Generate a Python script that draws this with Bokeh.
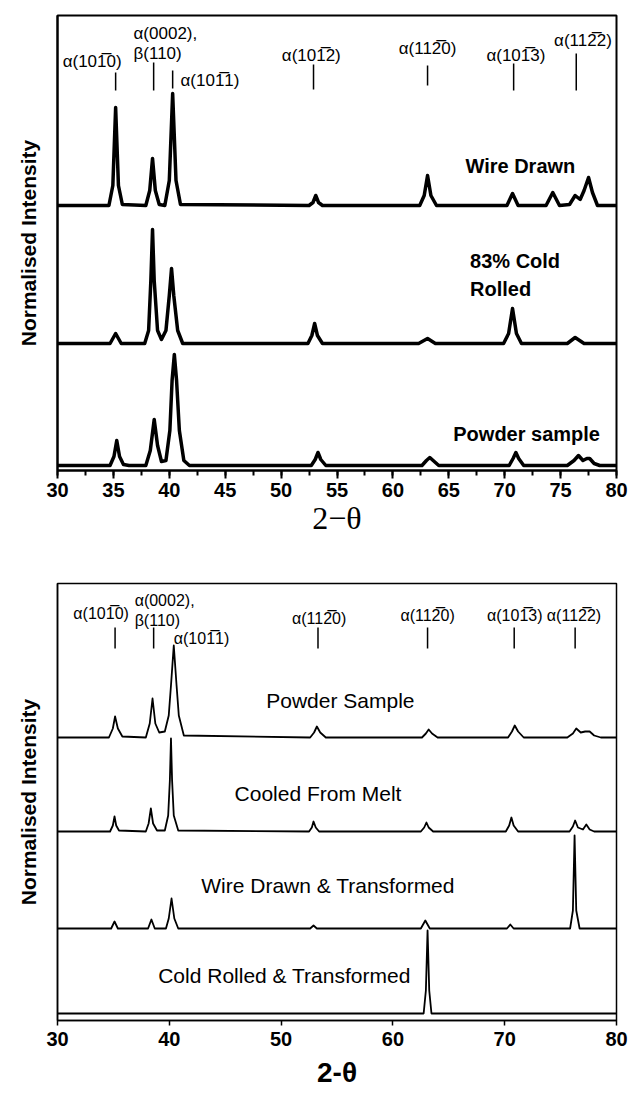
from bokeh.plotting import figure
from bokeh.models import Range1d, SingleIntervalTicker, FixedTicker, Label
from bokeh.layouts import column
from bokeh.core.properties import value
from bokeh.embed import file_html
from bokeh.resources import INLINE

OL = "\u0305"  # combining overline (bar over Miller index)

# ---------------- Panel (a) data ----------------
a_wire_x = [30, 34.6, 34.95, 35.2, 35.45, 35.8, 37.9, 38.25, 38.5, 38.75, 39.1, 39.6, 40.0, 40.3, 40.6, 41.0,
            52.5, 52.85, 53.1, 53.35, 53.7, 62.4, 62.8, 63.1, 63.4, 63.9, 70.2, 70.7, 71.2, 73.7, 74.3, 74.9,
            75.8, 76.3, 76.75, 77.1, 77.5, 77.85, 78.3, 80]
a_wire_y = [265, 265, 285, 363, 285, 266, 265, 280, 312, 280, 266, 265, 290, 377, 290, 266,
            265, 268, 275, 268, 265, 265, 275, 295, 275, 265, 265, 277, 265, 265, 278, 265,
            266, 275, 271, 280, 293, 278, 265, 265]

a_cold_x = [30, 34.7, 35.2, 35.7, 37.8, 38.15, 38.35, 38.5, 38.65, 38.95, 39.3, 39.7, 40.0, 40.2, 40.4, 40.75, 41.2,
            52.4, 52.75, 53.0, 53.25, 53.7, 62.3, 63.1, 63.8, 69.9, 70.35, 70.7, 71.05, 71.5, 75.6, 76.3, 77.1, 80]
a_cold_y = [127, 127, 137, 127, 127, 140, 190, 241, 190, 140, 131, 140, 175, 202, 175, 140, 127,
            127, 135, 147, 135, 127, 127, 132, 127, 127, 137, 162, 137, 127, 127, 133, 127, 127]

a_powder_x = [30, 34.7, 35.05, 35.3, 35.55, 35.9, 36.4, 37.9, 38.3, 38.65, 38.95, 39.3, 39.7, 40.05, 40.25, 40.45,
              40.65, 40.9, 41.3, 41.8, 52.7, 53.05, 53.3, 53.55, 54.0, 62.6, 63.0, 63.3, 63.6, 64.1,
              70.4, 70.75, 71.0, 71.25, 71.7, 75.6, 76.2, 76.6, 77.0, 77.35, 77.6, 78.0, 78.5, 80]
a_powder_y = [5, 5, 14, 30, 14, 6, 5, 5, 20, 51, 25, 9, 10, 40, 90, 116,
              90, 40, 10, 5, 5, 11, 18, 11, 5, 5, 10, 13, 10, 5,
              5, 12, 18, 12, 5, 5, 10, 15, 10, 12, 12, 7, 5, 5]

a_series_names = ["Wire Drawn", "83% Cold", "Rolled", "Powder sample"]

a_peak_pos = [35.2, 38.6, 40.3, 52.9, 63.1, 70.8, 76.4]
a_peak_names = ["α(10" + "1" + OL + "0)", "α(0002),", "α(10" + "1" + OL + "1)", "α(10" + "1" + OL + "2)",
                "α(11" + "2" + OL + "0)", "α(10" + "1" + OL + "3)", "α(11" + "2" + OL + "2)"]
a_beta_name = "β(110)"

# ---------------- Panel (b) data ----------------
b_powder_x = [30, 34.6, 34.95, 35.15, 35.4, 35.8, 37.9, 38.25, 38.5, 38.75, 39.1, 39.6, 39.95, 40.15, 40.4, 40.65,
              40.85, 41.3, 52.6, 52.95, 53.2, 53.5, 54.0, 62.6, 62.95, 63.2, 63.5, 64.0, 70.3, 70.65, 70.9, 71.2,
              71.7, 75.6, 76.1, 76.4, 76.8, 77.2, 77.6, 78.0, 78.6, 80]
b_powder_y = [283, 283, 292, 304, 292, 284, 283, 297, 322, 297, 288, 289, 305, 335, 375, 335,
              305, 285, 283, 288, 294, 288, 283, 283, 287, 291, 287, 283, 283, 289, 295, 289,
              283, 283, 287, 292, 288, 289, 289, 285, 283, 283]

b_melt_x = [30, 34.7, 34.95, 35.1, 35.25, 35.5, 37.9, 38.15, 38.35, 38.55, 38.9, 39.6, 39.9, 40.05, 40.15, 40.25,
            40.4, 40.8, 52.5, 52.75, 52.9, 53.1, 53.4, 62.5, 62.8, 63.0, 63.2, 63.6, 70.1, 70.4, 70.6, 70.8,
            71.2, 75.8, 76.1, 76.3, 76.55, 77.0, 77.3, 77.6, 78.0, 80]
b_melt_y = [189, 189, 195, 204, 195, 190, 189, 197, 212, 197, 190, 190, 205, 240, 282, 240,
            205, 190, 189, 193, 199, 193, 189, 189, 193, 198, 193, 189, 189, 195, 203, 195,
            189, 189, 194, 200, 193, 191, 196, 191, 189, 189]

b_wire_x = [30, 34.8, 35.1, 35.4, 38.1, 38.4, 38.7, 39.7, 39.95, 40.2, 40.45, 40.8, 52.6, 52.9, 53.2,
            62.5, 62.9, 63.3, 70.2, 70.5, 70.8, 75.85, 76.1, 76.25, 76.4, 76.7, 80]
b_wire_y = [92, 92, 99, 92, 92, 101, 92, 92, 102, 122, 102, 92, 92, 95, 92,
            92, 100, 92, 92, 96, 92, 92, 110, 185, 110, 92, 92]

b_cold_x = [30, 62.75, 62.95, 63.1, 63.25, 63.45, 80]
b_cold_y = [7, 7, 30, 90, 30, 7, 7]

b_series_names = ["Powder Sample", "Cooled From Melt", "Wire Drawn & Transformed", "Cold Rolled & Transformed"]

b_peak_pos = [35.15, 38.6, 53.3, 63.1, 70.85, 76.3]
b_peak_names = ["α(10" + "1" + OL + "0)", "α(0002),", "α(10" + "1" + OL + "1)", "α(11" + "2" + OL + "0)",
                "α(11" + "2" + OL + "0)", "α(10" + "1" + OL + "3)", "α(11" + "2" + OL + "2)"]
b_beta_name = "β(110)"

SANS = value("Liberation Sans")


def base_fig(height, left, right, top, bottom, ymax, lw):
    p = figure(width=632, height=height, output_backend="svg", toolbar_location=None,
               x_range=Range1d(30, 80), y_range=Range1d(0, ymax),
               min_border_left=left, min_border_right=right,
               min_border_top=top, min_border_bottom=bottom)
    p.xgrid.visible = False
    p.ygrid.visible = False
    p.outline_line_color = "black"
    p.outline_line_width = lw
    p.background_fill_color = "white"
    p.border_fill_color = "white"
    p.yaxis.ticker = FixedTicker(ticks=[])
    p.yaxis.major_tick_out = 0
    p.yaxis.major_tick_in = 0
    p.yaxis.minor_tick_out = 0
    p.yaxis.major_label_standoff = 0
    p.yaxis.axis_line_width = lw
    p.yaxis.axis_label = "Normalised Intensity"
    p.yaxis.axis_label_text_font = "Liberation Sans"
    p.yaxis.axis_label_text_font_style = "bold"
    p.yaxis.axis_label_text_font_size = "21px"
    p.yaxis.axis_label_text_color = "black"
    p.yaxis.axis_label_standoff = 18
    p.xaxis.axis_line_width = lw
    p.xaxis.major_label_text_font = "Liberation Sans"
    p.xaxis.major_label_text_font_style = "bold"
    p.xaxis.major_label_text_font_size = "20px"
    p.xaxis.major_label_text_color = "black"
    p.xaxis.axis_label_text_color = "black"
    return p


# ======================= Panel (a) =======================
pa = base_fig(545, 57, 16, 15, 75, 455, 2)
pa.xaxis.ticker = SingleIntervalTicker(interval=5, num_minor_ticks=2)
pa.xaxis.major_tick_out = 8
pa.xaxis.major_tick_in = 0
pa.xaxis.minor_tick_out = 5
pa.xaxis.minor_tick_in = 0
pa.xaxis.major_tick_line_width = 2
pa.xaxis.minor_tick_line_width = 2
pa.xaxis.major_label_standoff = 4
pa.xaxis.axis_label = "2\u2212\u03b8"
pa.xaxis.axis_label_text_font = "Liberation Serif"
pa.xaxis.axis_label_text_font_style = "normal"
pa.xaxis.axis_label_text_font_size = "32px"
pa.xaxis.axis_label_standoff = 0

for xs, ys in [(a_wire_x, a_wire_y), (a_cold_x, a_cold_y), (a_powder_x, a_powder_y)]:
    pa.line(xs, ys, line_color="black", line_width=3.5, line_join="round")

a_seg_y0 = [380, 380, 382, 381, 385, 380, 380]
a_seg_y1 = [398, 408, 400, 406, 405, 407, 417]
pa.segment(x0=a_peak_pos, x1=a_peak_pos, y0=a_seg_y0, y1=a_seg_y1, line_color="black", line_width=1.5)

a_lab_x = [33.1, 36.8, 41.0, 52.7, 63.1, 71.0, 77.0]
a_lab_y = [409, 437, 390, 415, 422, 415, 430]
a_lab_align = ["center", "left", "left", "center", "center", "center", "center"]
pa.text(x=a_lab_x + [36.8], y=a_lab_y + [417], text=a_peak_names + [a_beta_name],
        text_align=a_lab_align + ["left"], text_baseline="middle",
        text_font=SANS, text_font_size="17px", text_color="black")

pa.text(x=[71.4, 66.9, 66.9, 65.4], y=[305, 210, 182, 37], text=a_series_names,
        text_align=["center", "left", "left", "left"], text_baseline="middle",
        text_font=SANS, text_font_style="bold", text_font_size="20px", text_color="black")

pa.add_layout(Label(x=27.2, y=448, text="(a)", text_align="center", text_baseline="middle",
                    text_font="Liberation Serif", text_font_style="bold", text_font_size="22px",
                    text_color="black"))

# ======================= Panel (b) =======================
pb = base_fig(555, 55, 14, 38, 80, 437, 1.5)
pb.xaxis.ticker = SingleIntervalTicker(interval=10, num_minor_ticks=0)
pb.xaxis.major_tick_out = 5
pb.xaxis.major_tick_in = 0
pb.xaxis.major_tick_line_width = 1.5
pb.xaxis.major_label_standoff = 6
pb.xaxis.axis_label = "2-\u03b8"
pb.xaxis.axis_label_text_font = "Liberation Sans"
pb.xaxis.axis_label_text_font_style = "bold"
pb.xaxis.axis_label_text_font_size = "28px"
pb.xaxis.axis_label_standoff = 8

for xs, ys in [(b_powder_x, b_powder_y), (b_melt_x, b_melt_y), (b_wire_x, b_wire_y), (b_cold_x, b_cold_y)]:
    pb.line(xs, ys, line_color="black", line_width=1.8, line_join="round")

pb.segment(x0=b_peak_pos, x1=b_peak_pos, y0=[372] * 6, y1=[393] * 6, line_color="black", line_width=1.5)

b_lab_x = [33.9, 36.9, 40.4, 53.4, 63.1, 70.9, 76.2]
b_lab_y = [407, 420, 382, 402, 405, 405, 405]
b_lab_align = ["center", "left", "left", "center", "center", "center", "center"]
pb.text(x=b_lab_x + [36.9], y=b_lab_y + [400], text=b_peak_names + [b_beta_name],
        text_align=b_lab_align + ["left"], text_baseline="middle",
        text_font=SANS, text_font_size="16px", text_color="black")

pb.text(x=[55.3, 53.3, 54.2, 50.3], y=[320, 227, 135, 45], text=b_series_names,
        text_align="center", text_baseline="middle",
        text_font=SANS, text_font_size="21px", text_color="black")

pb.add_layout(Label(x=27.5, y=420, text="(b)", text_align="center", text_baseline="middle",
                    text_font="Liberation Serif", text_font_style="bold", text_font_size="22px",
                    text_color="black"))

layout = column(pa, pb, spacing=0)
open("out.html", "w").write(file_html(layout, INLINE))
